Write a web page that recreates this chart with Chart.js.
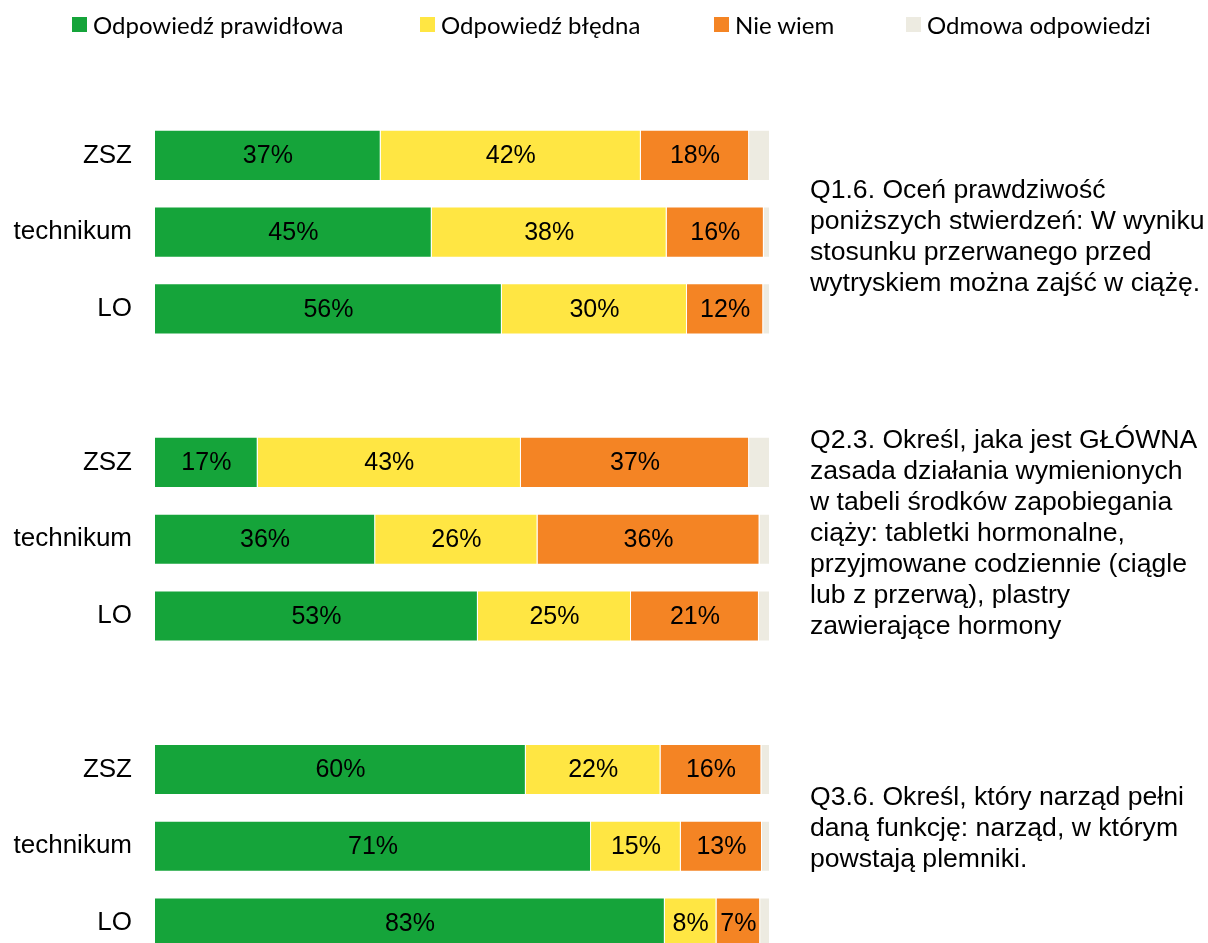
<!DOCTYPE html>
<html>
<head>
<meta charset="utf-8">
<script src="https://cdn.jsdelivr.net/npm/chart.js@4"></script>
<style>
  html, body { margin: 0; padding: 0; background: #fff; overflow: hidden; }
  #wrap { position: relative; width: 1208px; height: 1000px; }
  #legend { position: absolute; top: 0; left: 0; width: 1208px; height: 50px;
            font-family: Lato, "Open Sans", sans-serif; font-size: 24px; color: #000; }
  .item { position: absolute; top: 10px; display: flex; align-items: center; white-space: nowrap; }
  .box { width: 15px; height: 15px; margin-right: 6px; }
</style>
</head>
<body>
<div id="wrap">
  <canvas id="bars" width="1208" height="1000"></canvas>
  <div id="legend"></div>
</div>
<script>
// rows: three questions, one empty row between them
const rows = ['ZSZ', 'technikum', 'LO', '', 'ZSZ', 'technikum', 'LO', '', 'ZSZ', 'technikum', 'LO'];

// shares in %
const correct = [36.7, 45.0, 56.4, null, 16.7, 35.8, 52.5, null, 60.3, 70.9, 82.9];
const wrong   = [42.3, 38.2, 30.1, null, 42.8, 26.4, 24.9, null, 21.9, 14.6, 8.4];
const dunno   = [17.6, 15.8, 12.4, null, 37.1, 36.1, 20.8, null, 16.4, 13.2, 7.1];
const refused = [3.4, 1.0, 1.1, null, 3.4, 1.7, 1.8, null, 1.4, 1.3, 1.6];

const seriesNames = ['Odpowiedź prawidłowa', 'Odpowiedź błędna', 'Nie wiem', 'Odmowa odpowiedzi'];

const notes = [
  ['Q1.6. Oceń prawdziwość', 'poniższych stwierdzeń: W wyniku', 'stosunku przerwanego przed', 'wytryskiem można zajść w ciążę.'],
  ['Q2.3. Określ, jaka jest GŁÓWNA', 'zasada działania wymienionych', 'w tabeli środków zapobiegania',
   'ciąży: tabletki hormonalne,', 'przyjmowane codziennie (ciągle', 'lub z przerwą), plastry', 'zawierające hormony'],
  ['Q3.6. Określ, który narząd pełni', 'daną funkcję: narząd, w którym', 'powstają plemniki.']
];

const colors = ['#15a43a', '#ffe643', '#f48424', '#edebe1'];
const ARIAL = '"Liberation Sans", Arial, sans-serif';

// percentages written inside the coloured bars (not the grey one)
const barLabels = {
  id: 'barLabels',
  afterDatasetsDraw(chart) {
    const ctx = chart.ctx;
    ctx.save();
    ctx.font = '25px ' + ARIAL;
    ctx.fillStyle = '#000';
    ctx.textAlign = 'center';
    ctx.textBaseline = 'middle';
    chart.data.datasets.forEach((ds, i) => {
      if (i === 3) return;
      chart.getDatasetMeta(i).data.forEach((bar, j) => {
        const v = ds.data[j];
        if (v == null) return;
        const x = (bar.x + bar.base) / 2;
        ctx.fillText(Math.round(v) + '%', x, bar.y + 1);
      });
    });
    ctx.restore();
  }
};

// question texts on the right
const noteText = {
  id: 'noteText',
  afterDraw(chart) {
    const ctx = chart.ctx;
    const starts = [191, 441, 798];
    ctx.save();
    ctx.font = '26.6px ' + ARIAL;
    ctx.fillStyle = '#000';
    ctx.textAlign = 'left';
    ctx.textBaseline = 'middle';
    notes.forEach((lines, k) => {
      lines.forEach((t, n) => ctx.fillText(t, 810, starts[k] + n * 31));
    });
    ctx.restore();
  }
};

const datasets = [correct, wrong, dunno, refused].map((d, i) => ({
  label: seriesNames[i],
  data: d,
  backgroundColor: colors[i],
  borderColor: 'rgba(255,255,255,0.35)',
  borderWidth: 1,
  categoryPercentage: 1,
  barPercentage: 0.666
}));

const chart = new Chart(document.getElementById('bars'), {
  type: 'bar',
  data: { labels: rows, datasets: datasets },
  options: {
    indexAxis: 'y',
    responsive: false,
    animation: false,
    devicePixelRatio: 1,
    layout: { padding: { top: 117, bottom: 15, right: 438, left: 0 } },
    plugins: {
      legend: { display: false },
      tooltip: { enabled: false }
    },
    scales: {
      x: { stacked: true, min: 0, max: 100, display: false },
      y: {
        stacked: true,
        grid: { display: false, drawTicks: false },
        border: { display: false },
        ticks: { color: '#000', font: { family: ARIAL, size: 26 }, padding: 23 },
        afterFit(scale) { scale.width = 155; }
      }
    }
  },
  plugins: [barLabels, noteText]
});

// legend from the chart's own items
const lefts = [72, 420, 714, 906];
const legendEl = document.getElementById('legend');
Chart.defaults.plugins.legend.labels.generateLabels(chart).forEach((it, i) => {
  const item = document.createElement('div');
  item.className = 'item';
  item.style.left = lefts[i] + 'px';
  const box = document.createElement('span');
  box.className = 'box';
  box.style.background = it.fillStyle;
  const txt = document.createElement('span');
  txt.textContent = it.text;
  item.appendChild(box);
  item.appendChild(txt);
  legendEl.appendChild(item);
});
</script>
</body>
</html>
